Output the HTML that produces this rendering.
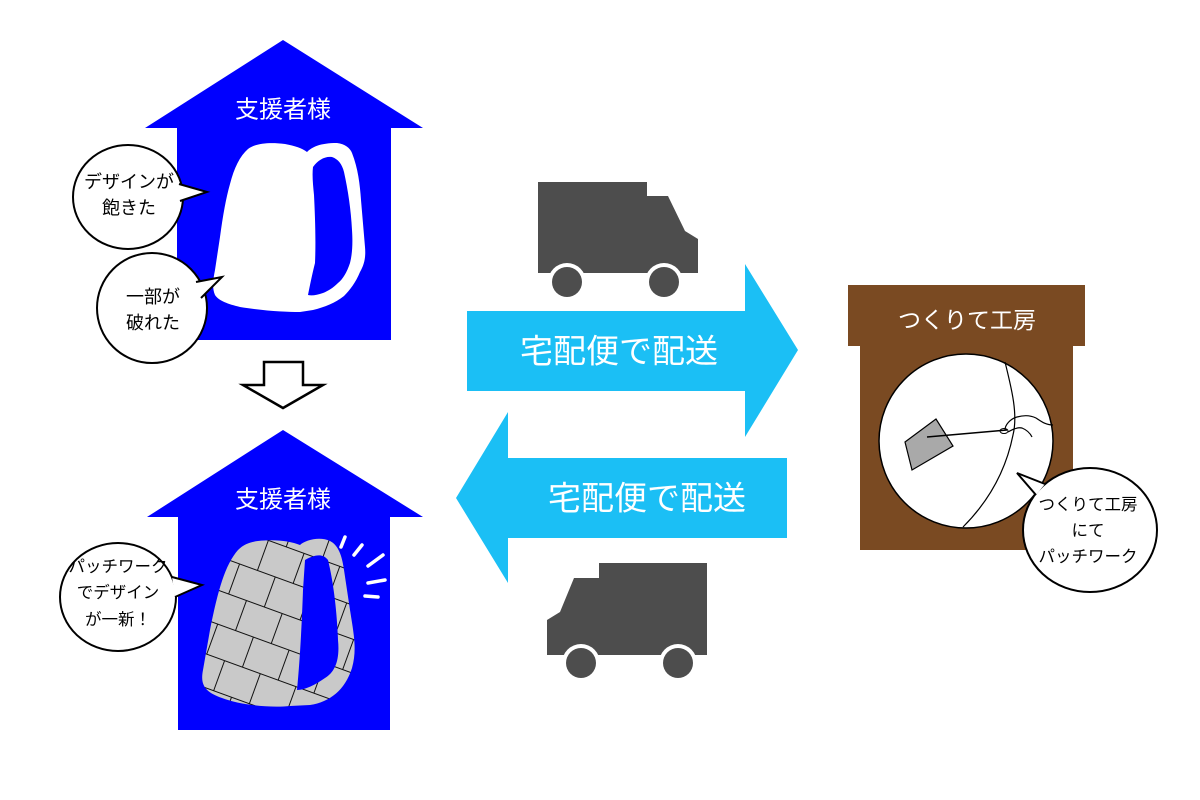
<!DOCTYPE html>
<html><head><meta charset="utf-8"><style>
html,body{margin:0;padding:0;background:#fff;}
svg{display:block;}
text{font-family:"Liberation Sans","Noto Sans CJK JP",sans-serif;}
</style></head><body>
<svg width="1200" height="800" viewBox="0 0 1200 800" xmlns="http://www.w3.org/2000/svg">
<defs>
<pattern id="patch" patternUnits="userSpaceOnUse" width="76" height="64" patternTransform="rotate(20)">
<rect x="0" y="0" width="76" height="64" fill="#c9c9c9"/>
<rect x="0" y="0" width="38" height="32" fill="#c9c9c9" stroke="#111" stroke-width="1"/>
<rect x="38" y="0" width="38" height="32" fill="#c9c9c9" stroke="#111" stroke-width="1"/>
<rect x="19" y="32" width="38" height="32" fill="#c9c9c9" stroke="#111" stroke-width="1"/>
<rect x="-19" y="32" width="38" height="32" fill="#c9c9c9" stroke="#111" stroke-width="1"/>
<rect x="57" y="32" width="38" height="32" fill="#c9c9c9" stroke="#111" stroke-width="1"/>
</pattern>
</defs>

<!-- Top house -->
<polygon points="283,40 423,128 391,128 391,340 177,340 177,128 145,128" fill="#0000ff"/>
<text x="283" y="110" font-size="24" fill="#fff" text-anchor="middle" dominant-baseline="central">支援者様</text>
<path d="M307,152 C312,147 320,143 337,143 C345,144 350,148 352,153 C358,168 360,185 361,200 L365,247 C366,258 364,265 360,272 C356,282 350,290 344,296 C335,303 325,307 313,310 L300,312 C285,312 265,311 240,307 C228,304 219,301 215,295 C212,288 213,280 215,270 L220,237 C223,215 226,198 230,184 C234,168 240,156 248,149 C256,143 270,142 285,144 C295,146 302,148 307,152 Z" fill="#fff"/>
<path d="M313,167 C318,160 325,156 332,157 C338,159 342,164 344,172 C348,190 351,210 352,230 C353,245 352,255 350,263 C347,272 343,279 338,283 C333,288 328,291 323,293 C317,295 312,296 308,295 C310,285 312,275 315,263 C316,240 315,215 314,195 C313,185 312,175 313,167 Z" fill="#0000ff"/>

<!-- Bubble 1 -->
<ellipse cx="128" cy="197" rx="55" ry="52" fill="#fff" stroke="#000" stroke-width="2"/>
<path d="M179,184 L207,192 L180,201" fill="#fff" stroke="#000" stroke-width="2" stroke-linejoin="miter"/>
<text x="129" y="182" font-size="18" fill="#000" text-anchor="middle" dominant-baseline="central">デザインが</text>
<text x="129" y="208" font-size="18" fill="#000" text-anchor="middle" dominant-baseline="central">飽きた</text>

<!-- Bubble 2 -->
<ellipse cx="152" cy="308" rx="55" ry="55" fill="#fff" stroke="#000" stroke-width="2"/>
<path d="M196,282 L222,277 L201,298" fill="#fff" stroke="#000" stroke-width="2"/>
<text x="153" y="297" font-size="18" fill="#000" text-anchor="middle" dominant-baseline="central">一部が</text>
<text x="153" y="323" font-size="18" fill="#000" text-anchor="middle" dominant-baseline="central">破れた</text>

<!-- Down arrow -->
<polygon points="264,362 303,362 303,385 323,385 283,408 243,385 264,385" fill="#fff" stroke="#000" stroke-width="2.5" stroke-linejoin="miter"/>

<!-- Bottom house -->
<polygon points="283,430 423,517 390,517 390,730 178,730 178,517 147,517" fill="#0000ff"/>
<text x="283" y="500" font-size="24" fill="#fff" text-anchor="middle" dominant-baseline="central">支援者様</text>
<path d="M258,541 C275,539 290,541 300,545 C305,540 320,536 330,541 C338,545 342,555 344,570 L350,610 C354,635 357,650 352,668 C345,690 330,702 310,705 L290,706 C270,708 240,705 222,698 C205,692 200,685 203,670 L210,630 C218,590 225,565 238,550 C244,544 250,542 258,541 Z" fill="url(#patch)"/>
<path d="M305,560 C312,556 322,552 328,560 C333,580 337,610 338,640 C340,660 335,672 325,678 C315,685 305,690 297,690 C300,660 302,620 303,590 Z" fill="#0000ff"/>
<g stroke="#fff" stroke-width="3.5" stroke-linecap="round">
<line x1="345" y1="537" x2="341" y2="547"/>
<line x1="362" y1="545" x2="354" y2="555"/>
<line x1="383" y1="555" x2="368" y2="566"/>
<line x1="385" y1="580" x2="368" y2="583"/>
<line x1="378" y1="597" x2="365" y2="596"/>
</g>

<!-- Bubble 3 -->
<ellipse cx="118" cy="597" rx="58" ry="54" fill="#fff" stroke="#000" stroke-width="2"/>
<path d="M172,577 L202,585 L175,597" fill="#fff" stroke="#000" stroke-width="2"/>
<text x="118" y="567" font-size="16.5" fill="#000" text-anchor="middle" dominant-baseline="central">パッチワーク</text>
<text x="118" y="593" font-size="16.5" fill="#000" text-anchor="middle" dominant-baseline="central">でデザイン</text>
<text x="118" y="620" font-size="16.5" fill="#000" text-anchor="middle" dominant-baseline="central">が一新！</text>

<!-- Truck 1 -->
<path d="M538,182 H647 V196 H668 L685,231 L698,239 V273 H538 Z" fill="#4d4d4d"/>
<circle cx="567" cy="282" r="19" fill="#fff"/>
<circle cx="664" cy="282" r="19" fill="#fff"/>
<circle cx="567" cy="282" r="15" fill="#4d4d4d"/>
<circle cx="664" cy="282" r="15" fill="#4d4d4d"/>

<!-- Arrow right -->
<polygon points="467,311 745,311 745,264 798,350 745,437 745,391 467,391" fill="#1bbff5"/>
<text x="619" y="351" font-size="33" fill="#fff" text-anchor="middle" dominant-baseline="central">宅配便で配送</text>

<!-- Arrow left -->
<polygon points="787,458 508,458 508,412 456,498 508,583 508,538 787,538" fill="#1bbff5"/>
<text x="647" y="498" font-size="33" fill="#fff" text-anchor="middle" dominant-baseline="central">宅配便で配送</text>

<!-- Truck 2 -->
<path d="M707,563 H599 V578 H574 L560,612 L547,620 V655 H707 Z" fill="#4d4d4d"/>
<circle cx="581" cy="663" r="19" fill="#fff"/>
<circle cx="678" cy="663" r="19" fill="#fff"/>
<circle cx="581" cy="663" r="15" fill="#4d4d4d"/>
<circle cx="678" cy="663" r="15" fill="#4d4d4d"/>

<!-- Workshop -->
<rect x="848" y="285" width="237" height="61" fill="#7a4a22"/>
<rect x="860" y="345" width="213" height="205" fill="#7a4a22"/>
<text x="967" y="320" font-size="23" fill="#fff" text-anchor="middle" dominant-baseline="central">つくりて工房</text>
<circle cx="966" cy="441" r="87" fill="#fff" stroke="#000" stroke-width="1.5"/>
<path d="M1005,362 C1012,390 1018,415 1013,435 C1005,475 985,505 963,527" fill="none" stroke="#000" stroke-width="1.2"/>
<polygon points="905,442 936,419 953,446 912,470" fill="#a9a9a9" stroke="#000" stroke-width="1.2"/>
<line x1="927" y1="437" x2="1007" y2="430" stroke="#000" stroke-width="1.5"/>
<ellipse cx="1004" cy="431" rx="4" ry="2.5" fill="none" stroke="#000" stroke-width="1"/>
<path d="M1005,430 C1005,425 1010,419 1017,417 C1024,415 1030,415 1036,418 C1042,422 1046,425 1053,425" fill="none" stroke="#000" stroke-width="1.2"/>
<path d="M1008,432 C1013,429 1018,427 1022,428 C1027,430 1030,433 1032,437" fill="none" stroke="#000" stroke-width="1.2"/>

<!-- Bubble 4 -->
<ellipse cx="1090" cy="530" rx="67" ry="62" fill="#fff" stroke="#000" stroke-width="2"/>
<path d="M1045,484 L1017,473 L1036,495" fill="#fff" stroke="#000" stroke-width="2"/>
<text x="1088" y="505" font-size="16.5" fill="#000" text-anchor="middle" dominant-baseline="central">つくりて工房</text>
<text x="1088" y="531" font-size="16.5" fill="#000" text-anchor="middle" dominant-baseline="central">にて</text>
<text x="1088" y="557" font-size="16.5" fill="#000" text-anchor="middle" dominant-baseline="central">パッチワーク</text>
</svg>
</body></html>
